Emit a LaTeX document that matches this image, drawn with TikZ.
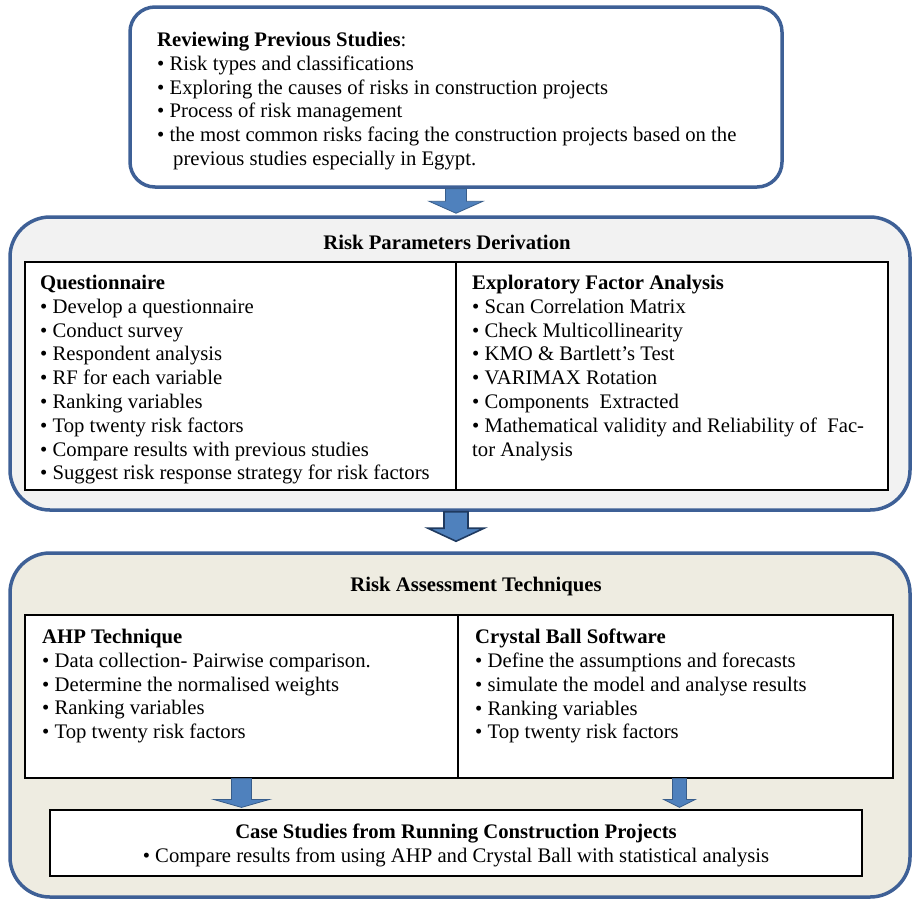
\documentclass[tikz,border=0pt]{standalone}
\usepackage{fontspec}
\setmainfont{Liberation Serif}
\usepackage{xcolor}
\usepackage{tikz}
\usetikzlibrary{positioning, calc}
\definecolor{frameblue}{HTML}{3E6096}
\definecolor{arrowblue}{HTML}{4F81BD}
\definecolor{arrowline}{HTML}{385D8A}
\definecolor{navy}{HTML}{1F3A60}
\definecolor{greybg}{HTML}{F2F2F2}
\definecolor{tanbg}{HTML}{EEECE1}
% block arrow: style, start, tip, half shaft, half head, head length
\newcommand{\blockarrow}[6]{%
  \draw[#1] ($(#2)+(-#4,0)$) -- ($(#3)+(-#4,-#6)$) -- ($(#3)+(-#5,-#6)$) -- (#3)
    -- ($(#3)+(#5,-#6)$) -- ($(#3)+(#4,-#6)$) -- ($(#2)+(#4,0)$) -- cycle;}

\begin{document}
\begin{tikzpicture}[
    x=1pt, y=-1pt,
    every node/.style={font=\fontsize{20.7}{23.8}\selectfont},
    outer/.style={draw=frameblue, line width=3.5pt, rounded corners=40pt},
    panel/.style={draw=black, line width=1.2pt, fill=white},
    txt/.style={align=left, inner sep=0pt, anchor=north west},
    title/.style={font=\fontsize{20.7}{23.8}\selectfont\bfseries, inner sep=0pt},
    arrowA/.style={fill=arrowblue, draw=arrowline, line width=0.8pt},
    arrowB/.style={fill=arrowblue, draw=navy, line width=1.6pt, line join=miter}
]
  \useasboundingbox (0,0) rectangle (912,898);

  % top box
  \node[outer, rounded corners=25pt, fill=white, minimum width=652pt, minimum height=180pt] (review) at (456,97) {};
  \node[txt] (revtext) at (157,32) {\textbf{Reviewing Previous Studies}:\\
    • Risk types and classifications\\
    • Exploring the causes of risks in construction projects\\
    • Process of risk management\\
    • the most common risks facing the construction projects based on the\\
    \hspace*{16pt}previous studies especially in Egypt.};

  % risk parameters derivation
  \node[outer, fill=greybg, minimum width=900pt, minimum height=293pt] (deriv) at (460,363.5) {};
  \node[title] (derivtitle) at (447,242) {Risk Parameters Derivation};
  \node[panel, minimum width=431pt, minimum height=228pt] (quest) at (240.5,376) {};
  \node[panel, minimum width=432pt, minimum height=228pt] (efa) at (672,376) {};
  \node[txt] (questtext) at (40,275) {\textbf{Questionnaire}\\
    • Develop a questionnaire\\
    • Conduct survey\\
    • Respondent analysis\\
    • RF for each variable\\
    • Ranking variables\\
    • Top twenty risk factors\\
    • Compare results with previous studies\\
    • Suggest risk response strategy for risk factors};
  \node[txt] (efatext) at (472,275) {\textbf{Exploratory Factor Analysis}\\
    • Scan Correlation Matrix\\
    • Check Multicollinearity\\
    • KMO \& Bartlett’s Test\\
    • VARIMAX Rotation\\
    • Components~ Extracted\\
    • Mathematical validity and Reliability of~ Fac-\\
    tor Analysis};

  % risk assessment techniques
  \node[outer, fill=tanbg, minimum width=900pt, minimum height=344pt] (assess) at (460,725) {};
  \node[title] (assesstitle) at (476,587) {Risk Assessment Techniques};
  \node[panel, minimum width=433pt, minimum height=163pt] (ahp) at (241.5,696.5) {};
  \node[panel, minimum width=435pt, minimum height=163pt] (crystal) at (675.5,696.5) {};
  \node[txt] (ahptext) at (42,629) {\textbf{AHP Technique}\\
    • Data collection- Pairwise comparison.\\
    • Determine the normalised weights\\
    • Ranking variables\\
    • Top twenty risk factors};
  \node[txt] (crystaltext) at (475,629) {\textbf{Crystal Ball Software}\\
    • Define the assumptions and forecasts\\
    • simulate the model and analyse results\\
    • Ranking variables\\
    • Top twenty risk factors};
  \node[panel, minimum width=812pt, minimum height=66pt] (cases) at (456,843) {};
  \node[txt, align=center, anchor=north] (casestext) at (456,824) {\textbf{Case Studies from Running Construction Projects}\\
    • Compare results from using AHP and Crystal Ball with statistical analysis};

  % arrows between the stages
  \coordinate (a1s) at (review.south);
  \coordinate (a1e) at ($(review.south |- deriv.north)+(0,-2)$);
  \coordinate (a2s) at (review.south |- deriv.south);
  \coordinate (a2e) at ($(review.south |- assess.north)+(0,-10)$);
  \coordinate (a3s) at (ahp.south);
  \coordinate (a3e) at ($(ahp.south |- cases.north)+(0,-2)$);
  \coordinate (a4s) at ($(crystal.south)+(4,0)$);
  \coordinate (a4e) at ($(a4s |- cases.north)+(0,-2)$);
  \blockarrow{arrowA}{a1s}{a1e}{10.5}{27}{12}
  \blockarrow{arrowB}{a2s}{a2e}{12}{28}{13}
  \blockarrow{arrowA}{a3s}{a3e}{10}{28}{8}
  \blockarrow{arrowA}{a4s}{a4e}{7}{16}{8}
\end{tikzpicture}
\end{document}
